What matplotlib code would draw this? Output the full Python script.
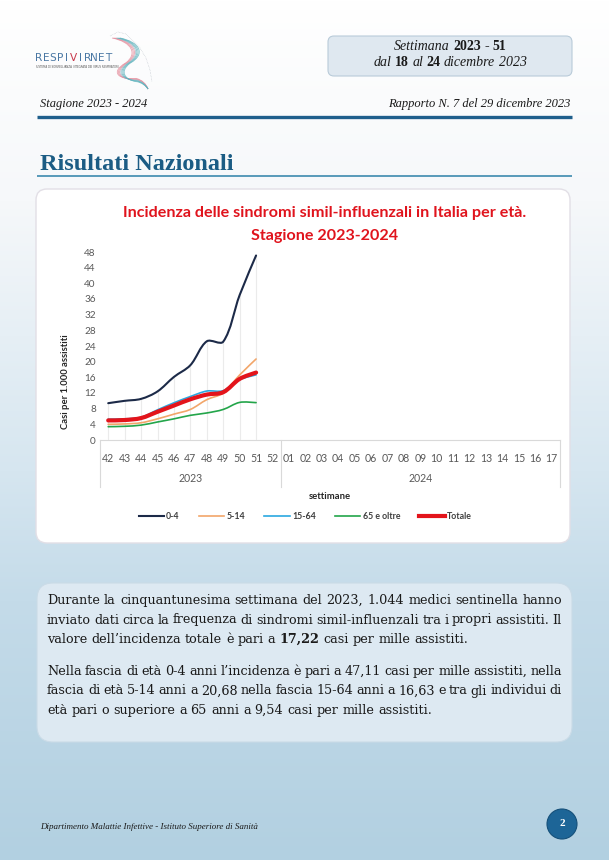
import numpy as np
import matplotlib.pyplot as plt
import matplotlib.transforms as mtransforms
from matplotlib.patches import FancyBboxPatch, Circle, PathPatch
from matplotlib.path import Path
from matplotlib.lines import Line2D

# data (incidence per 1000 assisted, weeks 42-51 of 2023)
weeks = ['42', '43', '44', '45', '46', '47', '48', '49', '50', '51', '52',
         '01', '02', '03', '04', '05', '06', '07', '08', '09', '10', '11',
         '12', '13', '14', '15', '16', '17']
years = ['2023', '2024']
year_span = [(0, 10), (11, 27)]
series_names = ['0-4', '5-14', '15-64', '65 e oltre', 'Totale']
inc_0_4 = [9.4, 10.0, 10.5, 12.4, 16.1, 19.1, 25.2, 25.1, 37.0, 47.11]
inc_5_14 = [4.0, 4.1, 4.4, 5.4, 6.6, 7.8, 10.3, 12.0, 16.6, 20.68]
inc_15_64 = [5.3, 5.4, 5.8, 7.7, 9.5, 11.1, 12.5, 12.6, 15.4, 16.63]
inc_65 = [3.4, 3.5, 3.8, 4.6, 5.4, 6.3, 6.9, 7.8, 9.6, 9.54]
inc_tot = [5.0, 5.1, 5.6, 7.2, 8.8, 10.4, 11.6, 12.2, 15.6, 17.22]
yticks = list(range(0, 49, 4))

colors = ['#1c2a48', '#f2a66a', '#2aa8e0', '#23a54a', '#e3141b']
widths = [1.5, 1.2, 1.2, 1.2, 3.0]

SERIF = 'Liberation Serif'
BODY = 'DejaVu Serif'
SANS = 'Lato'

W, H = 609, 860
fig = plt.figure(figsize=(W / 100, H / 100), dpi=100)

# page background in pixel coordinates
bg = fig.add_axes([0, 0, 1, 1])
bg.set_xlim(0, W)
bg.set_ylim(H, 0)
bg.axis('off')

stops_y = [0, 200, 470, 600, 860]
stops_c = [(255, 255, 255), (246, 248, 250), (214, 230, 240), (196, 219, 233), (178, 208, 225)]
rows = np.arange(H)
grad = np.stack([np.interp(rows, stops_y, [c[k] for c in stops_c]) for k in range(3)], axis=-1) / 255
bg.imshow(grad[:, None, :], extent=(0, W, H, 0), aspect='auto', zorder=0)

renderer = fig.canvas.get_renderer()


def text_width(s, **kw):
    t = bg.text(0, 0, s, **kw)
    w = t.get_window_extent(renderer).width
    t.remove()
    return w


def place_words(y, words, x0, x1=None, align='left', justify=False, size=10,
                family=SERIF, color='#1a1a1a', base_style='normal'):
    # words: list of (text, bold, style-or-None)
    kws = []
    for w in words:
        style = base_style if len(w) < 3 or w[2] is None else w[2]
        kws.append(dict(fontsize=size, family=family, color=color,
                        fontweight='bold' if w[1] else 'normal', fontstyle=style))
    ws = [text_width(w[0], **k) for w, k in zip(words, kws)]
    space = text_width('a a', **kws[0]) - text_width('aa', **kws[0])
    total = sum(ws) + space * (len(words) - 1)
    if justify and len(words) > 1:
        space = (x1 - x0 - sum(ws)) / (len(words) - 1)
        start = x0
    elif align == 'center':
        start = x0 - total / 2
    elif align == 'right':
        start = x0 - total
    else:
        start = x0
    cur = start
    for w, k, wd in zip(words, kws, ws):
        bg.text(cur, y, w[0], va='baseline', ha='left', zorder=5, **k)
        cur += wd + space


def plain(line, bold_words=()):
    return [(w, w in bold_words) for w in line.split(' ')]


# ---- logo
logo = 'RESPIVIRNET'
for i, ch in enumerate(logo):
    bg.text(39 + i * 6.9, 61, ch, fontsize=7.6, family='DejaVu Sans', ha='center', va='baseline',
            color='#c8374a' if i == 5 else '#4a78a4', zorder=5)
bg.text(36, 67, 'SISTEMA DI SORVEGLIANZA INTEGRATA DEI VIRUS RESPIRATORI', fontsize=1.9,
        family='DejaVu Sans', color='#555555', va='center', zorder=5)
for k, off in enumerate(np.linspace(-4, 4, 7)):
    col = '#e58d9c' if k < 3 else ('#9fb7c4' if k == 3 else '#5fb3bd')
    verts = [(116 + off, 38), (136 + off, 42), (142 + off, 54), (128 + off * 0.6, 63),
             (114 + off, 72), (122 + off, 80), (136, 80 + off * 0.4),
             (142, 81 + off * 0.3), (146, 85 + off * 0.3), (148, 89)]
    codes = [Path.MOVETO] + [Path.CURVE4] * 9
    bg.add_patch(PathPatch(Path(verts, codes), fill=False, edgecolor=col, lw=0.6, alpha=0.8, zorder=4))
outline = [(110, 36), (118, 32), (126, 34), (132, 40), (140, 48), (146, 58), (150, 70), (152, 82)]
bg.plot(*zip(*outline), color='#b0b8c0', lw=0.4, ls=':', zorder=3)

# ---- week box
bg.add_patch(FancyBboxPatch((328, 36), 244, 40, boxstyle='round,pad=0,rounding_size=6',
                            facecolor='#dfe8f0', edgecolor='#b9cbd9', lw=0.8, zorder=2))
place_words(50, [('Settimana', False, 'italic'), ('2023', True, 'normal'), ('-', True, 'normal'),
                 ('51', True, 'normal')], 450, align='center', size=10)
place_words(66, [('dal', False, 'italic'), ('18', True, 'normal'), ('al', False, 'italic'),
                 ('24', True, 'normal'), ('dicembre', False, 'italic'), ('2023', False, 'italic')],
            450, align='center', size=10)

bg.text(40, 107, 'Stagione 2023 - 2024', fontsize=9, family=SERIF, style='italic',
        color='#1a1a1a', va='baseline', zorder=5)
bg.text(570, 107, 'Rapporto N. 7 del 29 dicembre 2023', fontsize=9, family=SERIF, style='italic',
        color='#1a1a1a', va='baseline', ha='right', zorder=5)
bg.plot([37, 572], [117, 117], color='#1e5f8c', lw=2.4, solid_capstyle='butt', zorder=3)

bg.text(40, 170, 'Risultati Nazionali', fontsize=17.5, family=SERIF, weight='bold',
        color='#1b5c84', va='baseline', zorder=5)
bg.plot([37, 572], [176, 176], color='#4b93b4', lw=1.3, solid_capstyle='butt', zorder=3)

# ---- chart card
bg.add_patch(FancyBboxPatch((36, 189), 534, 354, boxstyle='round,pad=0,rounding_size=11',
                            facecolor='white', edgecolor='#e2dfe6', lw=1.0, zorder=2))
bg.text(325, 213, 'Incidenza delle sindromi simil-influenzali in Italia per età.', fontsize=11.6,
        family=SANS, weight='bold', color='#e0141d', ha='center', va='center', zorder=5)
bg.text(325, 236, 'Stagione 2023-2024', fontsize=11.6, family=SANS, weight='bold',
        color='#e0141d', ha='center', va='center', zorder=5)

ax = fig.add_axes([100 / W, 1 - 440 / H, 460 / W, 188 / H])
ax.patch.set_alpha(0)
ax.set_xlim(-0.5, len(weeks) - 0.5)
ax.set_ylim(0, 48)
for s in ['top', 'right', 'left']:
    ax.spines[s].set_visible(False)
ax.spines['bottom'].set_color('#d9d9d9')
ax.spines['bottom'].set_linewidth(0.8)
ax.set_yticks(yticks)
ax.set_yticklabels([str(v) for v in yticks], fontsize=7.2, family=SANS, color='#595959')
ax.set_xticks(range(len(weeks)))
ax.set_xticklabels(weeks, fontsize=7.6, family=SANS, color='#595959')
ax.tick_params(length=0, pad=3)
ax.tick_params(axis='x', pad=9)

all_series = [inc_0_4, inc_5_14, inc_15_64, inc_65, inc_tot]
n = len(inc_0_4)
xs = np.arange(n)
ax.vlines(xs, 0, np.max(all_series, axis=0), color='#ebebeb', lw=0.8, zorder=1)


def smooth_path(x, y):
    # Excel-like smoothing: tangent length scaled by the on-screen segment lengths
    pts = np.column_stack([x, y]).astype(float)
    pix = ax.transData.transform(pts)
    m = len(pts)
    verts = [pts[0]]
    codes = [Path.MOVETO]
    for i in range(m - 1):
        i0, i3 = max(i - 1, 0), min(i + 2, m - 1)
        d01 = np.hypot(*(pix[i] - pix[i0]))
        d12 = np.hypot(*(pix[i + 1] - pix[i]))
        d23 = np.hypot(*(pix[i3] - pix[i + 1]))
        f1 = d12 / (d01 + d12) * 2 / 3 if d01 > 0 else 1 / 3
        f2 = d12 / (d12 + d23) * 2 / 3 if d23 > 0 else 1 / 3
        c1 = pts[i] + (pts[i + 1] - pts[i0]) * f1 / 2
        c2 = pts[i + 1] - (pts[i3] - pts[i]) * f2 / 2
        verts += [c1, c2, pts[i + 1]]
        codes += [Path.CURVE4] * 3
    return Path(verts, codes)


handles = []
for vals, name, c, lw in zip(all_series, series_names, colors, widths):
    ax.add_patch(PathPatch(smooth_path(xs, vals), fill=False, edgecolor=c, lw=lw,
                           capstyle='round', joinstyle='round', zorder=3))
    handles.append(Line2D([], [], color=c, lw=lw, label=name))

# two-level category axis
tr = mtransforms.blended_transform_factory(ax.transData, ax.transAxes)
for xb in [-0.5, 10.5, len(weeks) - 0.5]:
    ax.plot([xb, xb], [0, -0.25], transform=tr, color='#d9d9d9', lw=0.8, clip_on=False)
for yr, (a, b) in zip(years, year_span):
    ax.text((a + b) / 2, -0.205, yr, transform=tr, fontsize=7.6, family=SANS, color='#595959',
            ha='center', va='center')
ax.text(0.5, -0.30, 'settimane', transform=ax.transAxes, fontsize=6.8, family=SANS,
        weight='bold', color='#262626', ha='center', va='center')
ax.set_ylabel('Casi per 1.000 assistiti', fontsize=6.8, family=SANS, weight='bold',
              color='#262626')
ax.yaxis.set_label_coords(-0.065, 0.31)

leg = ax.legend(handles=handles, ncol=5, frameon=False, loc='center',
                bbox_to_anchor=(0.446, -0.405), prop=dict(family=SANS, weight='bold', size=6.3),
                handlelength=2.9, handletextpad=0.25, columnspacing=2.2, borderaxespad=0)
for t in leg.get_texts():
    t.set_color('#404040')

# ---- text card
bg.add_patch(FancyBboxPatch((37, 583), 535, 159, boxstyle='round,pad=0,rounding_size=16',
                            facecolor='#dde9f2', edgecolor='#cadbe7', lw=0.8, zorder=2))
para1 = ['Durante la cinquantunesima settimana del 2023, 1.044 medici sentinella hanno',
         'inviato dati circa la frequenza di sindromi simil-influenzali tra i propri assistiti. Il',
         'valore dell\u2019incidenza totale è pari a 17,22 casi per mille assistiti.']
para2 = ['Nella fascia di età 0-4 anni l\u2019incidenza è pari a 47,11 casi per mille assistiti, nella',
         'fascia di età 5-14 anni a 20,68 nella fascia 15-64 anni a 16,63 e tra gli individui di',
         'età pari o superiore a 65 anni a 9,54 casi per mille assistiti.']
for lines, y0 in [(para1, 604), (para2, 675)]:
    for i, line in enumerate(lines):
        last = i == len(lines) - 1
        place_words(y0 + i * 19.5, plain(line, bold_words=('17,22',)), 47, 562,
                    justify=not last, size=9.2, family=BODY)

# ---- footer
bg.text(40, 829, 'Dipartimento Malattie Infettive - Istituto Superiore di Sanità', fontsize=6.5,
        family=SERIF, style='italic', color='#1a1a1a', va='baseline', zorder=5)
bg.add_patch(Circle((562, 824), 15, facecolor='#1d6597', edgecolor='#15507a', lw=0.8, zorder=4))
bg.text(562, 824, '2', fontsize=8, family=SERIF, weight='bold', color='white',
        ha='center', va='center', zorder=5)

fig.savefig('out.png', dpi=100)
